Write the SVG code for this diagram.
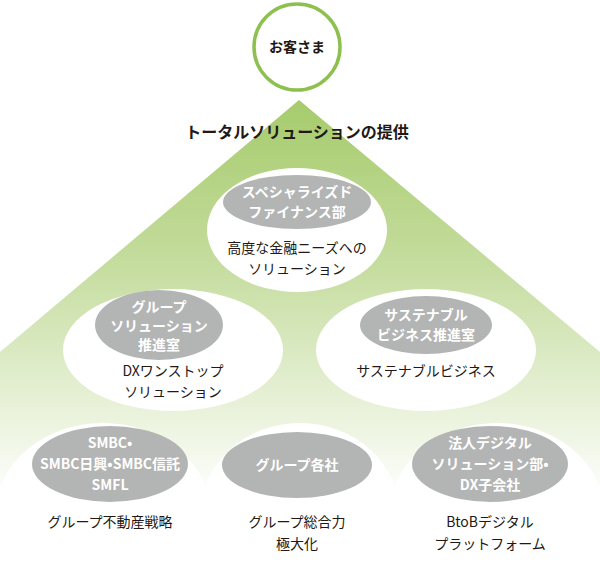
<svg xmlns="http://www.w3.org/2000/svg" width="600" height="582" viewBox="0 0 600 582">
<style>
text{font-family:"Noto Sans CJK JP","Noto Sans",sans-serif;text-anchor:middle}
.w{fill:#fff}
.g{fill:#b3b4b4}
.gt{fill:#fff;font-size:14px;font-weight:bold}
.bt{fill:#231815;font-size:14px}
</style>
<defs>
<linearGradient id="gr" x1="0" y1="100" x2="0" y2="500" gradientUnits="userSpaceOnUse">
<stop offset="0" stop-color="#a6cb6c"/>
<stop offset="0.4" stop-color="#c4dc9d"/>
<stop offset="1" stop-color="#ffffff"/>
</linearGradient>
</defs>
<rect width="600" height="582" fill="#fff"/>
<polygon points="299,100 600,352 600,582 0,582 0,352" fill="url(#gr)"/>
<g id="customer">
<circle cx="297" cy="47" r="43" fill="#fff" stroke="#8dc04f" stroke-width="3.5"/>
<text x="297" y="52" class="bt" font-weight="bold">お客さま</text>
</g>
<text x="297" y="138" class="bt" style="font-size:16px;font-weight:bold">トータルソリューションの提供</text>
<g id="bottom-white">
<ellipse class="w" cx="103" cy="515" rx="108" ry="92"/>
<ellipse class="w" cx="300" cy="515" rx="100" ry="92"/>
<ellipse class="w" cx="497" cy="515" rx="108" ry="92"/>
<rect class="w" x="0" y="515" width="600" height="67"/>
</g>
<g id="specialized">
<ellipse class="w" cx="297" cy="230" rx="90" ry="62"/>
<ellipse class="g" cx="297" cy="202" rx="74" ry="27"/>
<text x="297" y="197" class="gt">スペシャライズド</text>
<text x="297" y="217" class="gt">ファイナンス部</text>
<text x="297" y="253" class="bt">高度な金融ニーズへの</text>
<text x="297" y="274" class="bt">ソリューション</text>
</g>
<g id="group-solution">
<ellipse class="w" cx="173" cy="350" rx="110" ry="61"/>
<ellipse class="g" cx="159" cy="325" rx="64" ry="35"/>
<text x="159" y="312" class="gt">グループ</text>
<text x="159" y="331" class="gt">ソリューション</text>
<text x="159" y="350" class="gt">推進室</text>
<text x="173" y="376" class="bt">DXワンストップ</text>
<text x="173" y="397" class="bt">ソリューション</text>
</g>
<g id="sustainable">
<ellipse class="w" cx="426" cy="350" rx="110" ry="61"/>
<ellipse class="g" cx="426" cy="325" rx="66" ry="29"/>
<text x="426" y="320" class="gt">サステナブル</text>
<text x="426" y="340" class="gt">ビジネス推進室</text>
<text x="426" y="376" class="bt">サステナブルビジネス</text>
</g>
<g id="smbc">
<ellipse class="g" cx="110" cy="464" rx="78" ry="38"/>
<text x="110" y="448" class="gt">SMBC•</text>
<text x="110" y="469" class="gt">SMBC日興•SMBC信託</text>
<text x="110" y="490" class="gt">SMFL</text>
<text x="110" y="527" class="bt">グループ不動産戦略</text>
</g>
<g id="group-companies">
<ellipse class="g" cx="297" cy="465" rx="75" ry="33"/>
<text x="297" y="470" class="gt">グループ各社</text>
<text x="297" y="527" class="bt">グループ総合力</text>
<text x="297" y="549" class="bt">極大化</text>
</g>
<g id="corporate-digital">
<ellipse class="g" cx="490" cy="464" rx="78" ry="38"/>
<text x="490" y="448" class="gt">法人デジタル</text>
<text x="490" y="469" class="gt">ソリューション部•</text>
<text x="490" y="490" class="gt">DX子会社</text>
<text x="490" y="527" class="bt">BtoBデジタル</text>
<text x="490" y="549" class="bt">プラットフォーム</text>
</g>
<g id="connectors"/>
</svg>
